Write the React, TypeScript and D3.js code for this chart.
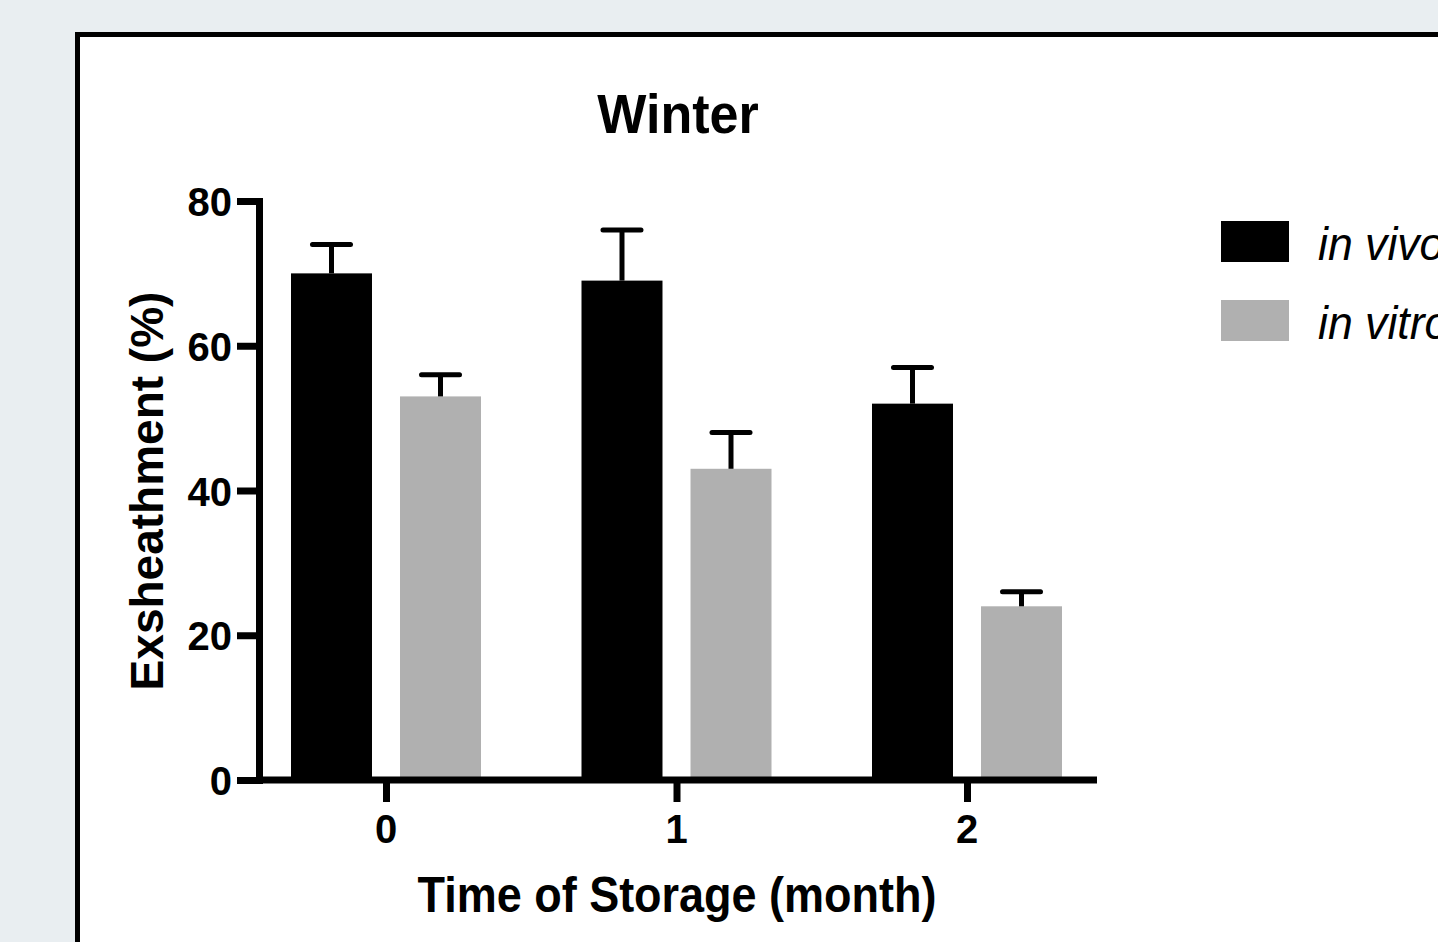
import { useEffect, useRef } from 'react';
import * as d3 from 'd3';

// months of storage
const categories = ['0', '1', '2'];
const seriesNames = ['in vivo', 'in vitro'];
const seriesColors = ['#000000', '#b0b0b0'];
// mean exsheathment (%) and error (SEM)
const inVivo = [70, 69, 52];
const inVivoErr = [4, 7, 5];
const inVitro = [53, 43, 24];
const inVitroErr = [3, 5, 2];
const yTicks = [0, 20, 40, 60, 80];

const W = 1438;
const H = 942;
const FONT = '"Liberation Sans", Arial, Helvetica, sans-serif';

function App() {
  const ref = useRef<SVGSVGElement>(null);

  useEffect(() => {
    const svg = d3.select(ref.current);
    svg.selectAll('*').remove();

    // background + white panel
    svg.append('rect').attr('width', W).attr('height', H).attr('fill', '#e9eef1');
    svg.append('rect')
      .attr('x', 77.5).attr('y', 34.5)
      .attr('width', 1500).attr('height', 1000)
      .attr('fill', '#fff').attr('stroke', '#000').attr('stroke-width', 5);

    const axisLeftX = 259;
    const axisRightX = 1097;

    const y = d3.scaleLinear().domain([0, 80]).range([780, 201]);
    const x = d3.scalePoint<string>().domain(categories).range([386, 967]);
    const inner = d3.scaleBand<string>().domain(seriesNames).range([-95, 95]).paddingInner(0.257);

    const data = categories.flatMap((c, i) => [
      { cat: c, series: seriesNames[0], value: inVivo[i], err: inVivoErr[i], color: seriesColors[0] },
      { cat: c, series: seriesNames[1], value: inVitro[i], err: inVitroErr[i], color: seriesColors[1] },
    ]);

    // bars
    svg.append('g').selectAll('rect')
      .data(data)
      .enter()
      .append('rect')
      .attr('x', d => x(d.cat)! + inner(d.series)!)
      .attr('y', d => y(d.value))
      .attr('width', inner.bandwidth())
      .attr('height', d => y(0) - y(d.value))
      .attr('fill', d => d.color);

    // error bars
    const eb = svg.append('g').attr('stroke', '#000').attr('stroke-width', 5);
    data.forEach(d => {
      const cx = x(d.cat)! + inner(d.series)! + inner.bandwidth() / 2;
      eb.append('line')
        .attr('x1', cx).attr('x2', cx)
        .attr('y1', y(d.value)).attr('y2', y(d.value + d.err));
      eb.append('line')
        .attr('x1', cx - 19).attr('x2', cx + 19)
        .attr('y1', y(d.value + d.err)).attr('y2', y(d.value + d.err))
        .attr('stroke-linecap', 'round');
    });

    // y axis
    const yAxis = svg.append('g')
      .attr('transform', `translate(${axisLeftX},0)`)
      .call(d3.axisLeft(y).tickValues(yTicks).tickSize(22).tickSizeOuter(0).tickFormat(() => ''));
    yAxis.select('.domain').attr('stroke-width', 7).attr('stroke-linecap', 'square');
    yAxis.selectAll('.tick line').attr('stroke-width', 7);

    // x axis
    svg.append('line')
      .attr('x1', axisLeftX).attr('x2', axisRightX)
      .attr('y1', y(0)).attr('y2', y(0))
      .attr('stroke', '#000').attr('stroke-width', 7);
    const xAxis = svg.append('g')
      .attr('transform', `translate(0,${y(0)})`)
      .call(d3.axisBottom(x).tickSize(22).tickSizeOuter(0).tickFormat(() => ''));
    xAxis.select('.domain').remove();
    xAxis.selectAll('.tick line').attr('stroke-width', 7);

    // text helper (slight horizontal squeeze like the source figure)
    const label = (tx: number, ty: number, txt: string, size: number, anchor: string, sx = 0.9, extra: any = {}) => {
      const t = svg.append('text')
        .attr('transform', `translate(${tx},${ty}) scale(${sx},1)`)
        .attr('text-anchor', anchor)
        .attr('font-family', FONT)
        .attr('font-size', size)
        .attr('font-weight', extra.weight ?? 'bold')
        .attr('fill', '#000')
        .text(txt);
      if (extra.italic) t.attr('font-style', 'italic');
      return t;
    };

    // tick labels
    yTicks.forEach(v => label(232, y(v) + 15, String(v), 40, 'end', 1));
    categories.forEach(c => label(x(c)!, 843, c, 40, 'middle', 1));

    // titles
    label(678, 133, 'Winter', 56, 'middle', 0.93);
    label(677, 912, 'Time of Storage (month)', 50, 'middle', 0.9);
    svg.append('text')
      .attr('transform', 'translate(163,491) rotate(-90)')
      .attr('text-anchor', 'middle')
      .attr('font-family', FONT)
      .attr('font-size', 46)
      .attr('font-weight', 'bold')
      .text('Exsheathment (%)');

    // legend
    seriesNames.forEach((s, i) => {
      svg.append('rect')
        .attr('x', 1221).attr('y', 221 + i * 79)
        .attr('width', 68).attr('height', 41)
        .attr('fill', seriesColors[i]);
      label(1318, 260 + i * 79, s, 46, 'start', 0.97, { weight: 'normal', italic: true });
    });
  }, []);

  return (
    <svg ref={ref} width={W} height={H} style={{ position: 'absolute', left: 0, top: 0 }} />
  );
}

export default App;
